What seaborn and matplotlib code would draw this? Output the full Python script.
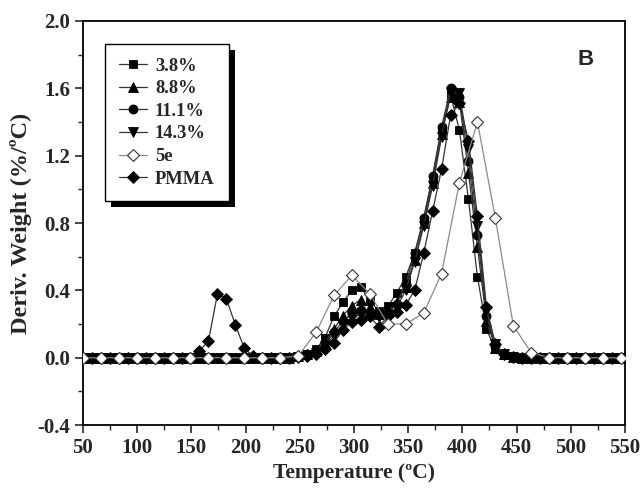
import matplotlib
matplotlib.use("Agg")
import matplotlib.pyplot as plt
import matplotlib.patches as mpatches
from matplotlib.ticker import MultipleLocator, FormatStrFormatter
import seaborn as sns

# --------------------------------------------------------------------------- #
# Data (DTG curves)
# --------------------------------------------------------------------------- #
temperature = [
    50.0, 58.3, 66.5, 74.8, 83.1, 91.4, 99.6, 107.9, 116.2, 124.4,
    132.7, 141.0, 149.2, 157.5, 165.8, 174.1, 182.3, 190.6, 198.9, 207.1,
    215.4, 223.7, 231.9, 240.2, 248.5, 256.8, 265.0, 273.3, 281.6, 289.8,
    298.1, 306.4, 314.6, 322.9, 331.2, 339.5, 347.7, 356.0, 364.3, 372.5,
    380.8, 389.1, 397.3, 405.6, 413.9, 422.2, 430.4, 438.7, 447.0, 455.2,
    463.5, 471.8, 480.0, 488.3, 496.6, 504.9, 513.1, 521.4, 529.7, 537.9,
    546.2,
]
temperature_5e = temperature[::2]

dtg_3_8 = [
    0, 0, 0, 0, 0, 0, 0, 0, 0, 0,
    0, 0, 0, 0, 0, 0, 0, 0, 0, 0,
    0, 0, 0, 0, 0.01, 0.02, 0.05, 0.12, 0.245, 0.33,
    0.40, 0.42, 0.335, 0.28, 0.305, 0.385, 0.48, 0.62, 0.82, 1.07,
    1.36, 1.56, 1.35, 0.94, 0.48, 0.17, 0.05, 0.015, 0.005, 0,
    0, 0, 0, 0, 0, 0, 0, 0, 0, 0,
    0,
]
dtg_8_8 = [
    0, 0, 0, 0, 0, 0, 0, 0, 0, 0,
    0, 0, 0, 0, 0, 0, 0, 0, 0, 0,
    0, 0, 0, 0, 0.01, 0.02, 0.04, 0.09, 0.17, 0.25,
    0.31, 0.345, 0.30, 0.26, 0.27, 0.33, 0.42, 0.58, 0.80, 1.04,
    1.33, 1.55, 1.52, 1.10, 0.66, 0.22, 0.06, 0.02, 0.005, 0,
    0, 0, 0, 0, 0, 0, 0, 0, 0, 0,
    0,
]
dtg_11_1 = [
    0, 0, 0, 0, 0, 0, 0, 0, 0, 0,
    0, 0, 0, 0, 0, 0, 0, 0, 0, 0,
    0, 0, 0, 0, 0.01, 0.02, 0.03, 0.08, 0.15, 0.22,
    0.26, 0.285, 0.27, 0.26, 0.265, 0.32, 0.44, 0.62, 0.83, 1.08,
    1.37, 1.60, 1.55, 1.17, 0.73, 0.25, 0.07, 0.02, 0.005, 0,
    0, 0, 0, 0, 0, 0, 0, 0, 0, 0,
    0,
]
dtg_14_3 = [
    0, 0, 0, 0, 0, 0, 0, 0, 0, 0,
    0, 0, 0, 0, 0, 0, 0, 0, 0, 0,
    0, 0, 0, 0, 0.005, 0.015, 0.03, 0.07, 0.13, 0.20,
    0.24, 0.255, 0.25, 0.24, 0.25, 0.30, 0.40, 0.57, 0.78, 1.02,
    1.31, 1.58, 1.57, 1.24, 0.78, 0.28, 0.08, 0.02, 0.005, 0,
    0, 0, 0, 0, 0, 0, 0, 0, 0, 0,
    0,
]
dtg_pmma = [
    0, 0, 0, 0, 0, 0, 0, 0, 0, 0,
    0, 0, 0, 0.04, 0.10, 0.38, 0.35, 0.195, 0.055, 0.01,
    0, 0, 0, 0, 0.005, 0.01, 0.02, 0.05, 0.09, 0.165,
    0.215, 0.225, 0.245, 0.185, 0.245, 0.27, 0.315, 0.40, 0.62, 0.87,
    1.12, 1.44, 1.51, 1.29, 0.84, 0.30, 0.08, 0.02, 0.005, 0,
    0, 0, 0, 0, 0, 0, 0, 0, 0, 0,
    0,
]
dtg_5e = [
    0, 0, 0, 0, 0, 0, 0, 0, 0, 0,
    0, 0, 0.01, 0.15, 0.37, 0.49, 0.38, 0.20, 0.20, 0.265,
    0.50, 1.04, 1.40, 0.83, 0.19, 0.03, 0, 0, 0, 0,
    0,
]

# --------------------------------------------------------------------------- #
# Style
# --------------------------------------------------------------------------- #
sns.set_theme(style="ticks")
plt.rcParams["font.family"] = ["Liberation Serif", "DejaVu Serif"]
plt.rcParams["font.weight"] = "bold"
plt.rcParams["axes.labelweight"] = "bold"

fig = plt.figure(figsize=(6.43, 4.88), dpi=100)
ax = fig.add_axes([0.129, 0.129, 0.843, 0.828])

filled = [
    ("3.8%", dtg_3_8, "s", 5.5),
    ("8.8%", dtg_8_8, "^", 6.5),
    ("11.1%", dtg_11_1, "o", 6.5),
    ("14.3%", dtg_14_3, "v", 6.5),
]
for label, vals, mk, ms in filled:
    sns.lineplot(x=temperature, y=vals, ax=ax, label=label, color="#333333",
                 lw=0.9, marker=mk, markersize=ms, markerfacecolor="black",
                 markeredgecolor="black", markeredgewidth=0.6, sort=False)

sns.lineplot(x=temperature_5e, y=dtg_5e, ax=ax, label="5e", color="#8a8a8a",
             lw=0.9, marker="D", markersize=6.3, markerfacecolor="white",
             markeredgecolor="#333333", markeredgewidth=0.8, sort=False, zorder=4)
sns.lineplot(x=temperature, y=dtg_pmma, ax=ax, label="PMMA", color="#333333",
             lw=0.9, marker="D", markersize=6.3, markerfacecolor="black",
             markeredgecolor="black", markeredgewidth=0.6, sort=False, zorder=3)

handles, labels = ax.get_legend_handles_labels()

ax.set_xlim(50, 550)
ax.set_ylim(-0.4, 2.0)
ax.xaxis.set_major_locator(MultipleLocator(50))
ax.xaxis.set_minor_locator(MultipleLocator(25))
ax.yaxis.set_major_locator(MultipleLocator(0.4))
ax.yaxis.set_minor_locator(MultipleLocator(0.2))
ax.yaxis.set_major_formatter(FormatStrFormatter("%.1f"))
ax.tick_params(which="major", direction="out", length=6, width=1.2,
               labelsize=15, pad=3)
ax.tick_params(which="minor", direction="out", length=3.5, width=1.0)
for lab in ax.get_xticklabels() + ax.get_yticklabels():
    lab.set_fontweight("bold")
for sp in ax.spines.values():
    sp.set_linewidth(1.3)
    sp.set_color("black")

ax.set_xlabel("Temperature (ºC)", fontsize=15.5, fontweight="bold", labelpad=4)
ax.set_ylabel("Deriv. Weight (%/ºC)", fontsize=17.5, fontweight="bold", labelpad=4)

ax.text(0.928, 0.905, "B", transform=ax.transAxes, fontsize=16,
        fontweight="bold", family="Liberation Sans", ha="center", va="center")

leg = ax.legend(handles, labels, loc="upper left", bbox_to_anchor=(0.041, 0.943),
                borderaxespad=0, fancybox=False, framealpha=1, edgecolor="black",
                prop={"size": 13.3, "weight": "bold"}, handlelength=1.5,
                handletextpad=0.45, labelspacing=0.3, borderpad=0.75)
leg.get_frame().set_linewidth(1.0)

# solid black drop shadow behind the legend box
fig.canvas.draw()
bb = leg.get_window_extent().transformed(fig.transFigure.inverted())
dx, dy = 6 / 643, 6 / 488
shadow = mpatches.Rectangle((bb.x0 + dx, bb.y0 - dy), bb.width, bb.height,
                            transform=fig.transFigure, facecolor="black",
                            edgecolor="none", zorder=0.5)
fig.add_artist(shadow)
ax.set_zorder(1)
ax.patch.set_alpha(0)

fig.savefig("out.png", dpi=100)
